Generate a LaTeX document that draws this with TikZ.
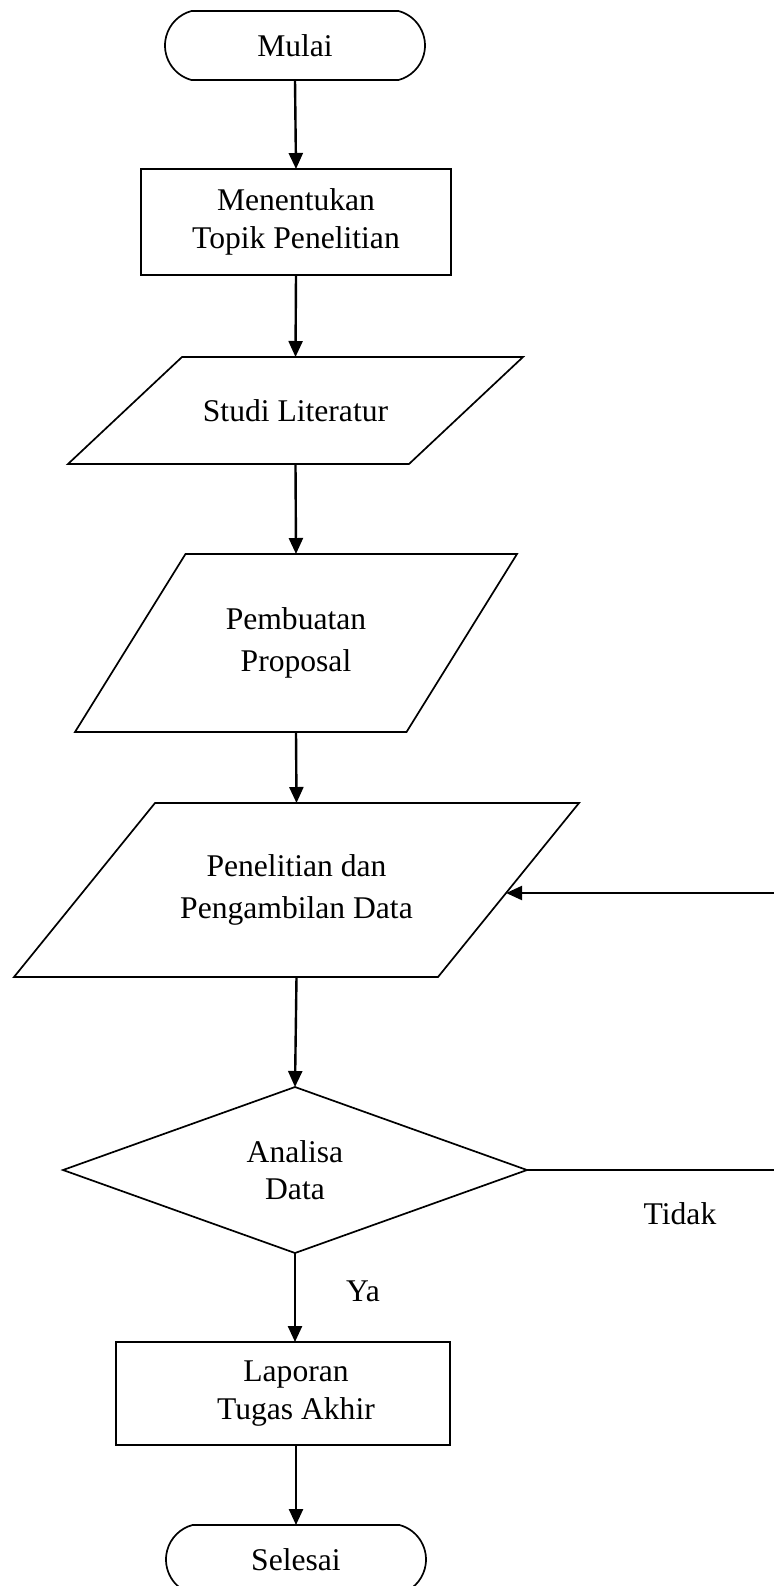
\documentclass[tikz,border=0pt]{standalone}
\usepackage{fontspec}
\setmainfont{Liberation Serif}
\usetikzlibrary{arrows.meta,shapes.geometric,shapes.misc,calc}

% parallelogram drawn over a bare node: #1 node name, #2 horizontal slant
\newcommand{\drawio}[2]{%
  \draw[shapeline] (#1.south west) -- ($(#1.north west)+(#2,0)$)
    -- (#1.north east) -- ($(#1.south east)+(-#2,0)$) -- cycle;}

\begin{document}
\begin{tikzpicture}[x=0.5pt,y=-0.5pt,
  every node/.style={font=\fontsize{15.8pt}{18.8pt}\selectfont,
    align=center, inner sep=0pt, outer sep=0pt},
  wide/.style={font=\fontsize{15.8pt}{21pt}\selectfont},
  shapeline/.style={line width=0.85pt},
  terminal/.style={shapeline, draw, rounded rectangle,
    rounded rectangle arc length=150, minimum width=130pt, minimum height=34.5pt},
  process/.style={shapeline, draw, rectangle},
  decision/.style={shapeline, draw, diamond, aspect=2.8,
    minimum width=232pt, minimum height=83pt},
  ioframe/.style={rectangle},
  flow/.style={line width=1.2pt, -{Triangle[length=8pt,width=7pt]}},
]
\useasboundingbox (0,0) rectangle (774,1586);
\clip (0,0) rectangle (774,1586);

% blocks
\node[terminal] (mulai) at (295,45.5) {Mulai};
\node[process, minimum width=155pt, minimum height=53pt] (topik) at (296,222)
  {Menentukan\\Topik Penelitian};
\node[ioframe, minimum width=227.5pt, minimum height=53.5pt] (studi) at (295.5,410.5)
  {Studi Literatur};
\drawio{studi}{114}
\node[ioframe, wide, minimum width=221pt, minimum height=89pt] (proposal) at (296,643)
  {Pembuatan\\Proposal};
\drawio{proposal}{110.5}
\node[ioframe, wide, minimum width=282.5pt, minimum height=87pt] (data) at (296.5,890)
  {Penelitian dan\\Pengambilan Data};
\drawio{data}{141}
\node[decision] (analisa) at (295,1170) {Analisa\\Data};
\node[process, minimum width=167pt, minimum height=51.5pt] (laporan) at (283,1393.5) {};
\node (laporantext) at (296,1393.5) {Laporan\\Tugas Akhir};
\node[terminal] (selesai) at (296,1559.5) {Selesai};

% branch labels
\node (tidak) at (680,1214) {Tidak};
\node (ya) at (363,1291) {Ya};

% connectors
\draw[flow] (mulai.south) -- (topik.north);
\draw[flow] (topik.south) -- (studi.north);
\draw[flow] (studi.south) -- (proposal.north);
\draw[flow] (proposal.south) -- (data.north);
\draw[flow] (data.south) -- (analisa.north);
\draw[flow] (analisa.south) -- (analisa.south |- laporan.north);
\draw[flow] (laporantext |- laporan.south) -- (selesai.north);

% loop back for "Tidak"
\coordinate (loop) at (800,1170);
\coordinate (dataedge) at ($(data.east)+(-72.9,3)$);
\draw[flow] (analisa.east) -- (loop) |- (dataedge);
\end{tikzpicture}
\end{document}
